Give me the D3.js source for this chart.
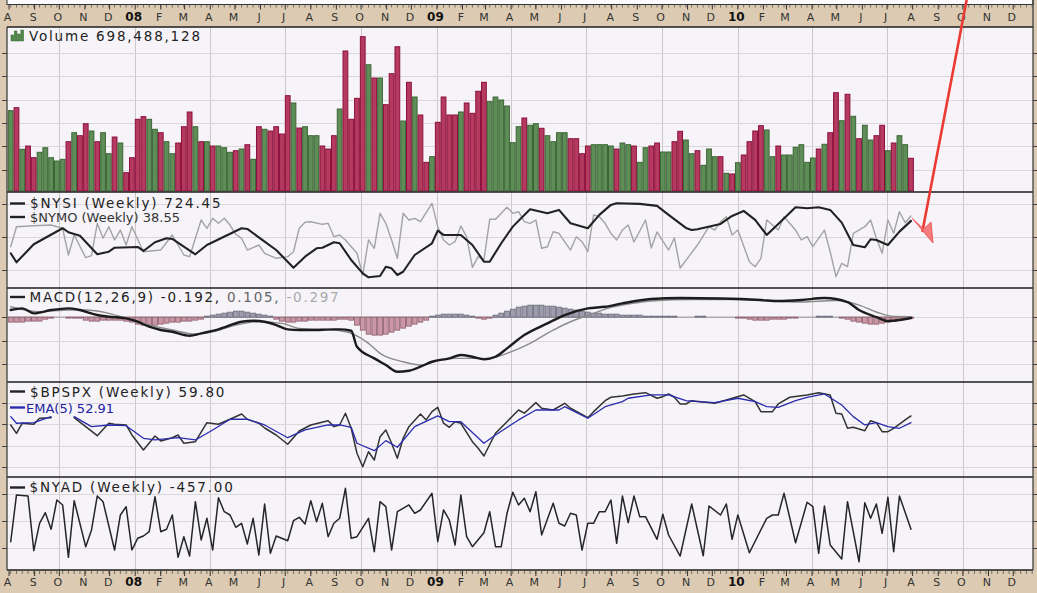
<!DOCTYPE html>
<html><head><meta charset="utf-8">
<script src="https://cdn.jsdelivr.net/npm/d3@7/dist/d3.min.js"></script>
<style>
html,body{margin:0;padding:0;background:#dccbb2;}
svg{display:block}
text{font-family:"DejaVu Sans",Verdana,sans-serif;}
</style></head>
<body><svg id="chart" width="1037" height="593"></svg>
<script>
// ================= DATA =================
const firstWeek = new Date(2007, 7, 3);            // week ending Fri 3 Aug 2007, one point per week
const volume = [1714,1778,890,960,711,826,924,711,640,676,
1052,1244,1180,1436,1280,1052,1244,796,1152,1024,
391,711,1530,1586,1530,1317,1244,1052,796,1024,
1372,1686,1372,1052,1052,960,960,924,826,860,
896,988,676,1372,1317,1280,1372,1216,2034,1878,
1344,1372,1180,1180,960,896,1180,1750,2988,1530,
1978,3293,2695,2411,2411,1842,2503,3079,1494,2320,
2006,1622,612,732,1466,2006,1622,1622,1686,1878,
1658,2128,2320,1906,2006,1942,1814,1031,1372,1558,
1402,1436,1338,1180,1052,1244,1244,1116,1116,796,
960,988,988,988,960,896,1024,988,960,612,
924,960,1024,832,832,1052,1274,1088,796,860,
548,896,732,732,378,363,604,768,1052,1280,
1394,1302,732,960,768,768,933,988,612,704,
896,997,1244,2098,1500,2064,1594,1116,1402,1088,
1180,1402,860,1024,1180,988,698.488];   // millions of shares
const volumeDir = ("ududdu uuuu" + "dudduduudu" + "dddduuduud" + "ddududuuud" + "udududdddu" +
  "duuudddudd" + "ddudud ddud" + "uddudddd ud" + "ddduuuuuud" + "uudu uuuddd" +
  "duuuuduudu" + "uddu udduud" + "uuudududdd" + "duuduuuuuu" + "duddududuu" + "dduduud").replace(/ /g,"").split("");

// sparse series: [week index, value]
const nysi = [[0,-427],[1,-747],[4,-107],[9,463],[10,320],[12,199],[15,-463],[17,-370],[18,-228],[22,-203],
[23,-345],[25,-36],[27,107],[28,82],[32,-463],[34,-132],[40,463],[41,438],[44,-14],[46,-310],
[49,-940],[51,-548],[53,-249],[54,-228],[56,-36],[57,-71],[59,-665],[61,-1139],[62,-1281],[64,-1235],
[65,-904],[66,-961],[67,-1199],[68,-1082],[70,-488],[73,-71],[74,377],[75,224],[78,224],[80,-132],
[82,-726],[83,-726],[85,-71],[87,520],[90,1139],[93,996],[95,1114],[97,641],[100,463],[102,936],
[104,1292],[105,1352],[109,1327],[112,1256],[114,936],[117,473],[118,402],[119,427],[123,616],[125,900],
[127,1078],[129,758],[131,224],[133,616],[136,1210],[138,1174],[140,1210],[142,1114],[144,662],[146,-132],
[148,-214],[149,71],[150,46],[152,-132],[154,342],[156,724.45]];

const nymo = [[0,-17.8],[1,18.9],[4,20.7],[7,22.0],[9,16.0],[10,-33.0],[11,3.7],[13,-38.0],[14,-34.3],[15,25.1],
[16,-2.4],[17,18.9],[18,-5.5],[19,12.8],[20,-14.7],[21,18.9],[23,-27.0],[26,-23.9],[28,3.7],[30,-33.0],
[31,-36.1],[33,31.2],[34,16.0],[35,34.3],[36,25.1],[37,34.3],[38,22.0],[39,5.0],[40,-2.4],[41,-23.9],
[43,-14.7],[44,-29.9],[46,-39.1],[48,-36.1],[49,-27.0],[50,16.0],[51,27.0],[52,28.1],[54,23.3],[55,25.1],
[56,0.6],[57,3.7],[58,-5.5],[60,-29.9],[61,-69.7],[62,-5.5],[63,-20.7],[64,43.5],[65,25.1],[66,-5.5],
[67,-39.1],[68,43.5],[69,31.2],[70,34.3],[71,28.1],[73,61.8],[74,18.9],[75,-5.5],[76,-14.7],[77,-8.6],
[78,20.2],[79,0.6],[80,-55.6],[81,-36.1],[82,-42.2],[83,32.5],[84,32.5],[86,54.5],[87,43.5],[88,46.4],
[89,28.1],[90,25.1],[91,31.2],[92,-20.7],[93,-17.8],[94,9.7],[95,6.8],[97,-23.9],[98,0.6],[99,-8.6],
[100,-27.0],[101,40.4],[102,37.3],[103,25.1],[104,6.8],[105,-5.5],[106,12.8],[107,22.0],[108,-9.2],[110,31.2],
[111,-20.2],[112,9.2],[114,-23.9],[115,-1.8],[116,-56.9],[119,-14.7],[121,18.9],[122,12.8],[123,28.1],[124,37.3],
[125,3.7],[126,12.8],[128,-45.3],[129,-54.5],[130,-39.1],[131,31.2],[133,12.8],[134,37.3],[136,12.8],[137,-5.5],
[138,0.6],[139,-17.8],[141,12.8],[142,-27.0],[143,-72.8],[144,-48.3],[145,-54.5],[146,6.8],[148,18.9],[149,31.2],
[150,-2.4],[151,-29.9],[152,31.2],[153,6.8],[154,46.4],[155,26.2],[156,38.55]];

const macd = [[0,1.51],[2,1.87],[4,0.81],[7,1.51],[10,1.87],[12,1.51],[15,0.45],[17,0.09],[20,-0.26],[22,-0.98],
[24,-2.04],[26,-2.74],[28,-3.11],[31,-3.96],[33,-3.45],[36,-2.60],[40,-0.98],[42,-0.77],[44,-0.98],[46,-1.68],
[48,-2.60],[50,-2.74],[52,-2.74],[56,-2.60],[57,-2.60],[59,-2.89],[60,-6.30],[63,-8.77],[65,-10.19],[67,-11.62],
[69,-11.40],[71,-10.55],[73,-9.49],[76,-8.77],[78,-8.06],[80,-8.43],[82,-8.98],[84,-8.43],[86,-6.64],[89,-3.81],
[93,-1.32],[96,0.45],[100,1.87],[103,2.21],[106,2.94],[111,3.85],[116,4.06],[123,3.96],[130,3.64],[133,3.43],
[137,3.64],[141,4.06],[145,3.21],[147,1.51],[150,0.02],[152,-0.83],[154,-0.62],[156,-0.192]];

const macdSignal = [[0,2.21],[5,1.15],[10,1.51],[13,1.51],[17,0.81],[21,-0.62],[24,-1.68],[28,-2.74],[32,-3.60],[35,-3.11],
[39,-1.68],[43,-0.98],[47,-1.32],[50,-2.38],[56,-2.74],[59,-3.45],[62,-5.57],[64,-7.70],[68,-9.49],[71,-10.19],
[74,-9.28],[77,-8.77],[80,-8.77],[83,-8.77],[86,-7.70],[90,-5.57],[94,-2.74],[97,-0.98],[101,0.81],[104,2.09],
[106,2.57],[111,3.43],[118,3.74],[125,3.74],[132,3.43],[137,3.21],[143,3.53],[147,2.57],[150,1.09],[153,0.13],[156,0.105]];

const macdHist = [-1.06,-1.06,-1.06,-0.85,-0.85,-0.85,-0.43,-0.21,0,0,
-0.21,-0.21,-0.21,-0.64,-0.85,-0.85,-0.64,-0.64,-0.64,-0.64,
-0.85,-1.06,-1.49,-1.70,-1.70,-1.70,-1.49,-1.28,-1.06,-1.06,
-0.85,-0.85,-0.64,-0.43,0.21,0.43,0.64,0.85,1.06,1.28,
1.28,1.06,0.85,0.64,0.43,0.21,-0.43,-0.85,-1.06,-1.06,
-0.85,-0.85,-0.64,-0.64,-0.64,-0.64,-0.64,-0.43,-0.43,-0.64,
-1.70,-2.77,-3.62,-3.83,-3.83,-3.62,-3.19,-2.77,-2.34,-1.91,
-1.49,-1.06,-0.64,0.21,0.43,0.64,0.64,0.64,0.64,0.43,
0.21,-0.21,-0.43,-0.21,0.43,0.85,1.28,1.70,2.13,2.34,
2.55,2.55,2.55,2.34,2.34,2.13,1.91,1.70,1.49,1.28,
1.06,0.85,0.85,0.64,0.64,0.64,0.43,0.43,0.43,0.43,
0.21,0.21,0.21,0.21,0.21,0.21,0,0,0,0.21,
0.21,0,0,0,0,0,-0.21,-0.21,-0.43,-0.64,
-0.64,-0.64,-0.43,-0.43,-0.43,-0.21,-0.21,0,0,0,
0.21,0.21,0.21,0,-0.21,-0.43,-0.85,-1.06,-1.28,-1.49,
-1.49,-1.28,-1.06,-0.85,-0.64,-0.43,-0.297];

const bpspx = [[0,50.5],[1,41.9],[2,52.3],[4,51.2],[5,57.4],[7,58.0],[9,null],[11,58.0],[13,48.8],[15,39.5],
[17,52.3],[18,51.2],[20,50.5],[21,40.2],[23,24.8],[25,39.2],[26,34.1],[28,37.4],[29,40.2],[30,31.7],
[32,33.3],[34,52.9],[36,51.2],[38,56.4],[40,61.8],[41,56.4],[43,52.3],[44,47.4],[46,40.2],[48,30.7],
[50,44.3],[52,50.5],[55,54.9],[56,48.8],[57,50.5],[58,62.6],[59,47.1],[60,21.4],[61,7.6],[62,23.0],
[63,14.5],[64,38.5],[65,45.4],[66,31.7],[67,16.3],[68,36.8],[69,48.8],[71,61.8],[72,55.7],[73,64.2],
[74,68.7],[75,52.3],[76,48.1],[77,53.9],[78,52.3],[80,33.3],[81,26.5],[82,18.6],[84,42.0],[86,53.9],
[88,65.9],[89,62.6],[91,73.5],[92,67.7],[94,65.9],[96,72.8],[97,67.7],[100,58.0],[101,64.2],[103,75.5],
[104,79.0],[106,80.4],[108,82.4],[110,83.7],[112,78.0],[113,79.6],[114,82.4],[115,79.0],[116,72.1],[117,72.1],
[118,75.5],[122,72.8],[124,76.2],[127,81.4],[129,74.5],[130,64.2],[132,64.2],[133,72.1],[135,79.0],[138,81.4],
[140,83.7],[142,81.4],[143,62.6],[144,61.8],[145,47.1],[146,48.1],[148,44.6],[149,54.9],[150,52.9],[151,43.6],
[152,43.6],[153,47.1],[155,55.7],[156,59.8]];

const bpEma5 = [[0,59.1],[1,52.3],[4,52.9],[7,59.1],[9,null],[11,59.1],[14,48.8],[17,50.5],[20,49.8],[23,36.8],
[25,35.1],[29,37.4],[32,35.1],[35,45.4],[38,56.4],[41,56.4],[44,50.5],[48,37.4],[51,45.4],[55,50.5],
[57,50.5],[59,48.1],[60,31.7],[63,24.1],[65,34.4],[67,27.6],[70,48.8],[74,59.8],[76,53.9],[78,53.9],
[82,31.7],[84,40.2],[88,55.7],[91,65.9],[95,65.9],[96,69.3],[100,57.4],[103,69.3],[106,74.5],[107,78.0],
[111,81.4],[114,81.4],[117,75.5],[119,74.5],[122,73.5],[126,78.0],[129,74.5],[131,69.3],[133,68.7],[136,75.5],
[138,79.0],[141,82.4],[144,71.1],[146,59.1],[148,50.5],[150,52.9],[152,48.8],[154,47.1],[156,52.91]];

const nyad = [[0,-1151],[1,1446],[3,1390],[4,-1651],[5,-128],[6,461],[7,-461],[8,1168],[9,890],[10,-2019],
[11,1129],[13,-1429],[14,-500],[15,1390],[16,1073],[18,-1612],[19,334],[20,795],[21,-1612],[22,-962],
[23,-834],[24,-595],[25,1351],[26,-595],[27,-461],[28,334],[29,-2019],[30,-873],[31,-1946],[32,1073],
[33,-1056],[34,150],[35,-1612],[36,1296],[37,517],[38,334],[39,-350],[40,-128],[41,-1279],[42,150],
[43,-1890],[44,945],[45,-1796],[46,-834],[48,-1095],[49,17],[50,206],[51,-167],[52,1129],[53,-39],
[54,984],[55,-873],[56,-128],[57,150],[58,1818],[59,-962],[60,-873],[62,150],[63,-1707],[64,1073],
[65,795],[66,-1612],[67,517],[69,890],[70,428],[71,612],[73,1540],[74,-1151],[75,612],[76,56],
[77,-1334],[78,1446],[79,-873],[80,-1429],[82,-651],[83,517],[84,-1429],[85,-1429],[86,428],[87,1596],
[88,890],[89,1262],[90,517],[91,1629],[92,-778],[94,984],[95,-128],[96,-278],[97,428],[98,334],
[99,-1612],[100,-128],[101,-128],[102,517],[103,517],[104,1168],[105,-1240],[106,1390],[107,-95],[108,1390],
[109,239],[110,239],[112,-1017],[113,373],[114,-778],[116,-1946],[118,945],[120,-1929],[121,834],[123,334],
[124,945],[125,-1017],[126,334],[128,-1763],[131,150],[132,334],[133,334],[134,1540],[136,-1207],[138,1040],
[139,795],[140,-1796],[141,834],[142,-1334],[144,-2113],[145,1073],[147,-2263],[148,1017],[149,150],[150,945],
[151,-684],[152,1318],[153,-1707],[154,1390],[156,-457]];

// gridline values per panel
const volGrid  = [450, 950, 1450, 1950, 2450, 2950];
const nymoGrid = [-60, 0, 60];
const macdGrid = [-10, -5, 0];
const bpGrid   = [7, 29, 51, 73];
const nyadGrid = [-1500, 0, 1500];

// legend texts
const legVolume = "Volume 698,488,128";
const legNysi = "$NYSI (Weekly) 724.45";
const legNymo = "$NYMO (Weekly) 38.55";
const legMacd = ["MACD(12,26,9) -0.192,", " 0.105,", " -0.297"];
const legBp = "$BPSPX (Weekly) 59.80";
const legEma = "EMA(5) 52.91";
const legNyad = "$NYAD (Weekly) -457.00";

// ================= CHART =================
const svg = d3.select("#chart");
const W = 1037, H = 593, L = 7, R = 1033;
const P = {vol:[27,192], nysi:[192,288], macd:[288,382], bp:[382,477], nyad:[477,570]};

const x = d3.scaleTime().domain([new Date(2007,6,29,12), new Date(2010,11,25)]).range([L, R]);
const wk = i => d3.timeDay.offset(firstWeek, i * 7);
const bw = x(wk(1)) - x(wk(0));

const yVol  = d3.scaleLinear().domain([0, 3500]).range([191, 27]);
const yNysi = d3.scaleLinear().domain([-1660, 1750]).range([288, 192]);
const yNymo = d3.scaleLinear().domain([-93.6, 82.6]).range([288, 192]);
const yMacd = d3.scaleLinear().domain([-13.8, 6.2]).range([382, 288]);
const yBp   = d3.scaleLinear().domain([-3, 94.7]).range([477, 382]);
const yNyad = d3.scaleLinear().domain([-2722, 2444]).range([570, 477]);

// backgrounds
svg.append("rect").attr("width", W).attr("height", H).attr("fill", "#dccbb2");
svg.append("rect").attr("x", L).attr("y", -2).attr("width", R - L).attr("height", 6.5)
  .attr("fill", "#fbfafc").attr("stroke", "#333").attr("stroke-width", 1);
svg.append("rect").attr("x", L).attr("y", 27).attr("width", R - L).attr("height", 570 - 27).attr("fill", "#f6f4f8");

const defs = svg.append("defs");
Object.entries(P).forEach(([k, [t, b]]) => {
  defs.append("clipPath").attr("id", "clip-" + k).append("rect")
    .attr("x", L).attr("y", t).attr("width", R - L).attr("height", b - t);
});

// vertical quarterly gridlines
const quarters = d3.timeMonth.every(3).range(x.domain()[0], x.domain()[1]);
svg.append("g").selectAll("line").data(quarters).join("line")
  .attr("x1", d => Math.round(x(d)) + 0.5).attr("x2", d => Math.round(x(d)) + 0.5)
  .attr("y1", 27).attr("y2", 570).attr("stroke", "#cdc8c8").attr("stroke-width", 1);

// horizontal gridlines
function hgrid(scale, vals) {
  const g = svg.append("g");
  g.selectAll("line.g").data(vals).join("line")
    .attr("x1", L).attr("x2", R)
    .attr("y1", d => Math.round(scale(d)) + 0.5).attr("y2", d => Math.round(scale(d)) + 0.5)
    .attr("stroke", "#dbd7db").attr("stroke-width", 1);
  g.selectAll("line.tl").data(vals).join("line")
    .attr("x1", 2).attr("x2", L)
    .attr("y1", d => Math.round(scale(d)) + 0.5).attr("y2", d => Math.round(scale(d)) + 0.5)
    .attr("stroke", "#444").attr("stroke-width", 1);
  g.selectAll("line.tr").data(vals).join("line")
    .attr("x1", R).attr("x2", W)
    .attr("y1", d => Math.round(scale(d)) + 0.5).attr("y2", d => Math.round(scale(d)) + 0.5)
    .attr("stroke", "#444").attr("stroke-width", 1);
}
hgrid(yVol, volGrid);
hgrid(yNymo, nymoGrid);
hgrid(yMacd, macdGrid);
hgrid(yBp, bpGrid);
hgrid(yNyad, nyadGrid);

// ---- volume bars ----
const gVol = svg.append("g").attr("clip-path", "url(#clip-vol)");
gVol.selectAll("rect").data(volume).join("rect")
  .attr("x", (d, i) => x(wk(i)) - bw / 2 + 0.5)
  .attr("width", bw - 1)
  .attr("y", d => yVol(d))
  .attr("height", d => yVol(0) - yVol(d))
  .attr("fill", (d, i) => volumeDir[i] === "u" ? "#5f8d57" : "#b53a60")
  .attr("stroke", (d, i) => volumeDir[i] === "u" ? "#3c6536" : "#8c0f3c")
  .attr("stroke-width", 1);

// line helper
function drawLine(g, data, yScale, color, width, curve) {
  const line = d3.line()
    .defined(d => d[1] !== null)
    .x(d => x(wk(d[0])))
    .y(d => yScale(d[1]))
    .curve(curve || d3.curveLinear);
  g.append("path").datum(data).attr("d", line)
    .attr("fill", "none").attr("stroke", color).attr("stroke-width", width)
    .attr("stroke-linejoin", "round").attr("stroke-linecap", "round");
}

// ---- NYSI / NYMO ----
const gNy = svg.append("g").attr("clip-path", "url(#clip-nysi)");
drawLine(gNy, nymo, yNymo, "#a3a3a3", 1.4);
drawLine(gNy, nysi, yNysi, "#222", 2.1);

// ---- MACD ----
const gM = svg.append("g").attr("clip-path", "url(#clip-macd)");
gM.append("line").attr("x1", x(wk(0)) - bw / 2).attr("x2", x(wk(156)) + bw / 2)
  .attr("y1", yMacd(0)).attr("y2", yMacd(0)).attr("stroke", "#9a8e96").attr("stroke-width", 1);
gM.selectAll("rect").data(macdHist).join("rect")
  .attr("x", (d, i) => x(wk(i)) - bw / 2 + 0.5)
  .attr("width", bw - 1)
  .attr("y", d => Math.min(yMacd(d), yMacd(0)))
  .attr("height", d => Math.abs(yMacd(d) - yMacd(0)))
  .attr("fill", d => d < 0 ? "#cb97a6" : "#9d9dae")
  .attr("stroke", d => d < 0 ? "#8d5c6c" : "#6a6a7a")
  .attr("stroke-width", 0.8);
drawLine(gM, macdSignal, yMacd, "#8a8a8a", 1.4, d3.curveMonotoneX);
drawLine(gM, macd, yMacd, "#1c1c1c", 2.4, d3.curveMonotoneX);

// ---- BPSPX ----
const gB = svg.append("g").attr("clip-path", "url(#clip-bp)");
drawLine(gB, bpspx, yBp, "#333", 1.5);
drawLine(gB, bpEma5, yBp, "#2b2bb0", 1.3);

// ---- NYAD ----
const gA = svg.append("g").attr("clip-path", "url(#clip-nyad)");
drawLine(gA, nyad, yNyad, "#262626", 1.5);

// panel borders
const borders = [27, 192, 288, 382, 477, 570];
svg.append("g").selectAll("line").data(borders).join("line")
  .attr("x1", L).attr("x2", R).attr("y1", d => d).attr("y2", d => d)
  .attr("stroke", "#1e1e1e").attr("stroke-width", 1.6);
svg.append("line").attr("x1", L).attr("x2", L).attr("y1", 27).attr("y2", 570).attr("stroke", "#333").attr("stroke-width", 1.2);
svg.append("line").attr("x1", R).attr("x2", R).attr("y1", -2).attr("y2", 570).attr("stroke", "#333").attr("stroke-width", 1.2);

// ---- time axes (top & bottom) ----
const weeks = d3.timeFriday.range(x.domain()[0], x.domain()[1]);
const months = d3.timeMonth.range(x.domain()[0], x.domain()[1]);
function axisStrip(yTick, dir, yLabel) {
  const g = svg.append("g");
  g.selectAll("line.w").data(weeks).join("line")
    .attr("x1", d => x(d)).attr("x2", d => x(d))
    .attr("y1", yTick).attr("y2", yTick + dir * 3)
    .attr("stroke", "#555").attr("stroke-width", 0.8);
  g.selectAll("line.m").data(months).join("line")
    .attr("x1", d => x(d)).attr("x2", d => x(d))
    .attr("y1", yTick).attr("y2", yTick + dir * 5)
    .attr("stroke", "#333").attr("stroke-width", 1);
  g.selectAll("text").data(months).join("text")
    .attr("x", d => x(d) - 1.5).attr("y", yLabel)
    .attr("text-anchor", "middle")
    .attr("font-size", d => d.getMonth() === 0 ? 12 : 11)
    .attr("font-weight", d => d.getMonth() === 0 ? "bold" : "normal")
    .attr("fill", d => d.getMonth() === 0 ? "#111" : "#333")
    .text(d => d.getMonth() === 0 ? d3.timeFormat("%y")(d) : d3.timeFormat("%b")(d)[0]);
}
axisStrip(4.5, 1, 20.5);
axisStrip(571, 1, 586);

// ---- legends ----
function dash(x1, x2, y, color) {
  svg.append("line").attr("x1", x1).attr("x2", x2).attr("y1", y).attr("y2", y)
    .attr("stroke", color).attr("stroke-width", 2.4);
}
function legend(xp, yp, parts, size, spacing) {
  const t = svg.append("text").attr("x", xp).attr("y", yp)
    .attr("font-size", size).attr("letter-spacing", spacing);
  parts.forEach(([s, c]) => t.append("tspan").attr("fill", c).text(s));
}
// volume icon
const iconBars = [6, 10, 7, 11];
svg.append("g").selectAll("rect").data(iconBars).join("rect")
  .attr("x", (d, i) => 11 + i * 3.3).attr("y", d => 41 - d).attr("width", 2.6).attr("height", d => d)
  .attr("fill", "#4f8a48").attr("stroke", "#2f5f2a").attr("stroke-width", 0.5);
legend(29, 41, [[legVolume, "#222"]], 13.5, 1.8);

dash(10, 25, 203.5, "#222");
legend(30, 208, [[legNysi, "#222"]], 13.5, 1.8);
dash(10, 25, 217, "#222");
legend(30, 221.5, [[legNymo, "#333"]], 13, 0);

dash(10, 25, 297, "#222");
legend(29.5, 302, [[legMacd[0], "#222"], [legMacd[1], "#666"], [legMacd[2], "#aaa"]], 13.5, 1.75);

dash(10, 25, 391.5, "#222");
legend(30, 396.5, [[legBp, "#222"]], 13.5, 1.8);
dash(10, 25, 407.5, "#2b2bb0");
legend(26, 412.5, [[legEma, "#2222a0"]], 13, 0);

dash(10, 25, 487.5, "#222");
legend(29.5, 492, [[legNyad, "#222"]], 13.5, 1.8);

// ---- annotation arrow ----
svg.append("line").attr("x1", 967).attr("y1", -2).attr("x2", 922.5).attr("y2", 231)
  .attr("stroke", "#ec3a34").attr("stroke-width", 2.6).attr("stroke-linecap", "round");
svg.append("polygon").attr("points", "912,218 933,243 931,222 923.5,229")
  .attr("fill", "#f37070").attr("fill-opacity", 0.9).attr("stroke", "#f05a5a").attr("stroke-width", 1);
</script>
</body></html>
